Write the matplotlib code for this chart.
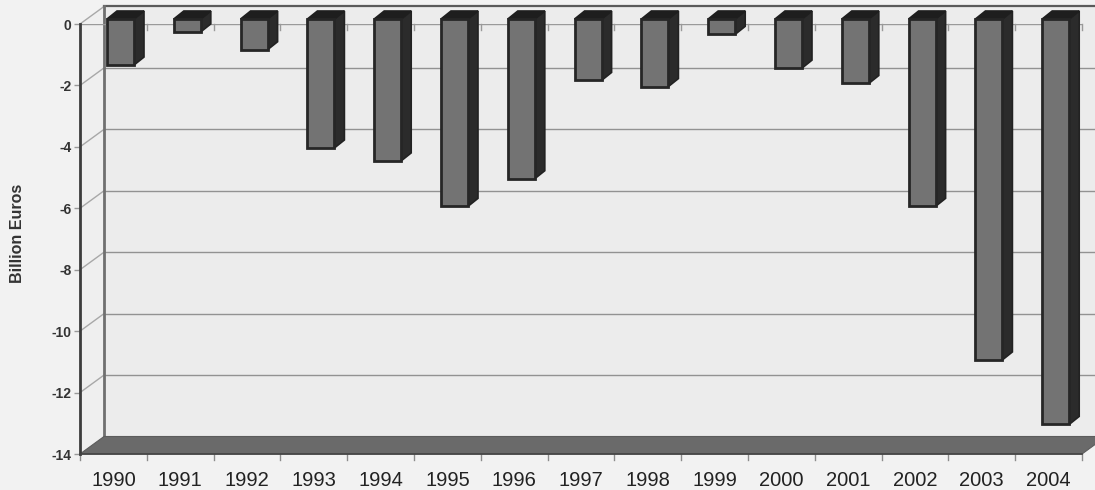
import matplotlib
matplotlib.use("Agg")
import matplotlib.pyplot as plt
from matplotlib.patches import Polygon

plt.rcParams['font.family'] = ['Liberation Sans', 'DejaVu Sans']

years = [1990, 1991, 1992, 1993, 1994, 1995, 1996, 1997, 1998, 1999, 2000, 2001, 2002, 2003, 2004]
balance = [-1.5, -0.42, -1.0, -4.2, -4.62, -6.1, -5.2, -2.0, -2.2, -0.5, -1.6, -2.1, -6.1, -11.1, -13.2]
y_ticks = [0, -2, -4, -6, -8, -10, -12, -14]

W, H = 1095, 490
fig = plt.figure(figsize=(W / 100, H / 100), dpi=100, facecolor='#f2f2f2')
ax = fig.add_axes([80 / W, 1 - 454 / H, 1002 / W, 430 / H])
ax.set_xlim(0, len(years))
ax.set_ylim(-14, 0)
ax.patch.set_alpha(0)
for s in ax.spines.values():
    s.set_visible(False)

# Conversion from screen pixels to data units, for the oblique depth offsets
ux = len(years) / 1002
uy = 14 / 430
wall_dx, wall_dy = 24 * ux, 17.5 * uy
bar_dx, bar_dy = 10 * ux, 8 * uy
plane_dy = 5 * uy
bar_w = 27 * ux
bar_off = 27 * ux
x_max = len(years)

def poly(points, **kw):
    kw.setdefault('clip_on', False)
    ax.add_patch(Polygon(points, closed=True, **kw))

# Back wall, side wall and floor
poly([(wall_dx, -14 + wall_dy), (wall_dx, wall_dy), (x_max + wall_dx, wall_dy), (x_max + wall_dx, -14 + wall_dy)],
     fc='#ececec', ec='none', zorder=1)
poly([(0, -14), (0, 0), (wall_dx, wall_dy), (wall_dx, -14 + wall_dy)], fc='#efefef', ec='none', zorder=1)

for v in y_ticks[1:-1]:
    ax.plot([wall_dx, x_max + wall_dx], [v + wall_dy] * 2, color='#929292', lw=1, zorder=2, clip_on=False)
for v in y_ticks[:-1]:
    ax.plot([0, wall_dx], [v, v + wall_dy], color='#a8a8a8', lw=1, zorder=2, clip_on=False)

# Top edge of the back wall and its left edge
ax.plot([wall_dx, x_max + wall_dx], [wall_dy] * 2, color='#5a5a5a', lw=1.6, zorder=2, clip_on=False)
ax.plot([wall_dx, wall_dx], [wall_dy, -14 + wall_dy], color='#707070', lw=2, zorder=2, clip_on=False)

# Zero line carrying the category ticks
ax.plot([0, x_max], [0, 0], color='#9a9a9a', lw=1, zorder=2)
for i in range(len(years) + 1):
    ax.plot([i, i], [0, -6 * uy], color='#9a9a9a', lw=1, zorder=2, clip_on=False)

poly([(0, -14), (wall_dx, -14 + wall_dy), (x_max + wall_dx, -14 + wall_dy), (x_max, -14)],
     fc='#6a6a6a', ec='#5c5c5c', lw=0.8, zorder=3)

# Oblique columns hanging from the zero plane
for i, v in enumerate(balance):
    x0 = i + bar_off
    x1 = x0 + bar_w
    top = plane_dy
    low = v + plane_dy
    poly([(x1, low), (x1, top), (x1 + bar_dx, top + bar_dy), (x1 + bar_dx, low + bar_dy)],
         fc='#2b2b2b', ec='#222222', lw=1.2, zorder=5)
    poly([(x0, top), (x0 + bar_dx, top + bar_dy), (x1 + bar_dx, top + bar_dy), (x1, top)],
         fc='#1e1e1e', ec='#1e1e1e', lw=1.2, zorder=5)
    poly([(x0, low), (x0, top), (x1, top), (x1, low)],
         fc='#737373', ec='#262626', lw=2, zorder=6)

# Front vertical axis with ticks
ax.plot([0, 0], [0, -14], color='#3c3c3c', lw=2, zorder=7, clip_on=False)
ax.plot([0, x_max], [-14, -14], color='#444444', lw=1.2, zorder=7, clip_on=False)
for i in range(len(years) + 1):
    ax.plot([i, i], [-14, -14 - 6 * uy], color='#8c8c8c', lw=1, zorder=2, clip_on=False)
ax.set_yticks(y_ticks)
ax.set_yticklabels([str(v) for v in y_ticks], fontsize=10, fontweight='bold', color='#333333')
ax.tick_params(axis='y', length=4, width=1, color='#999999', pad=2)
ax.set_xticks([i + 0.5 for i in range(len(years))])
ax.set_xticklabels([str(y) for y in years], fontsize=14.5, color='#222222')
ax.tick_params(axis='x', length=0, pad=12)

fig.text(18 / W, 1 - 233 / H, 'Billion Euros', rotation=90, ha='center', va='center',
         fontsize=11.5, fontweight='bold', color='#333333')

fig.savefig('out.png', dpi=100, facecolor=fig.get_facecolor())
